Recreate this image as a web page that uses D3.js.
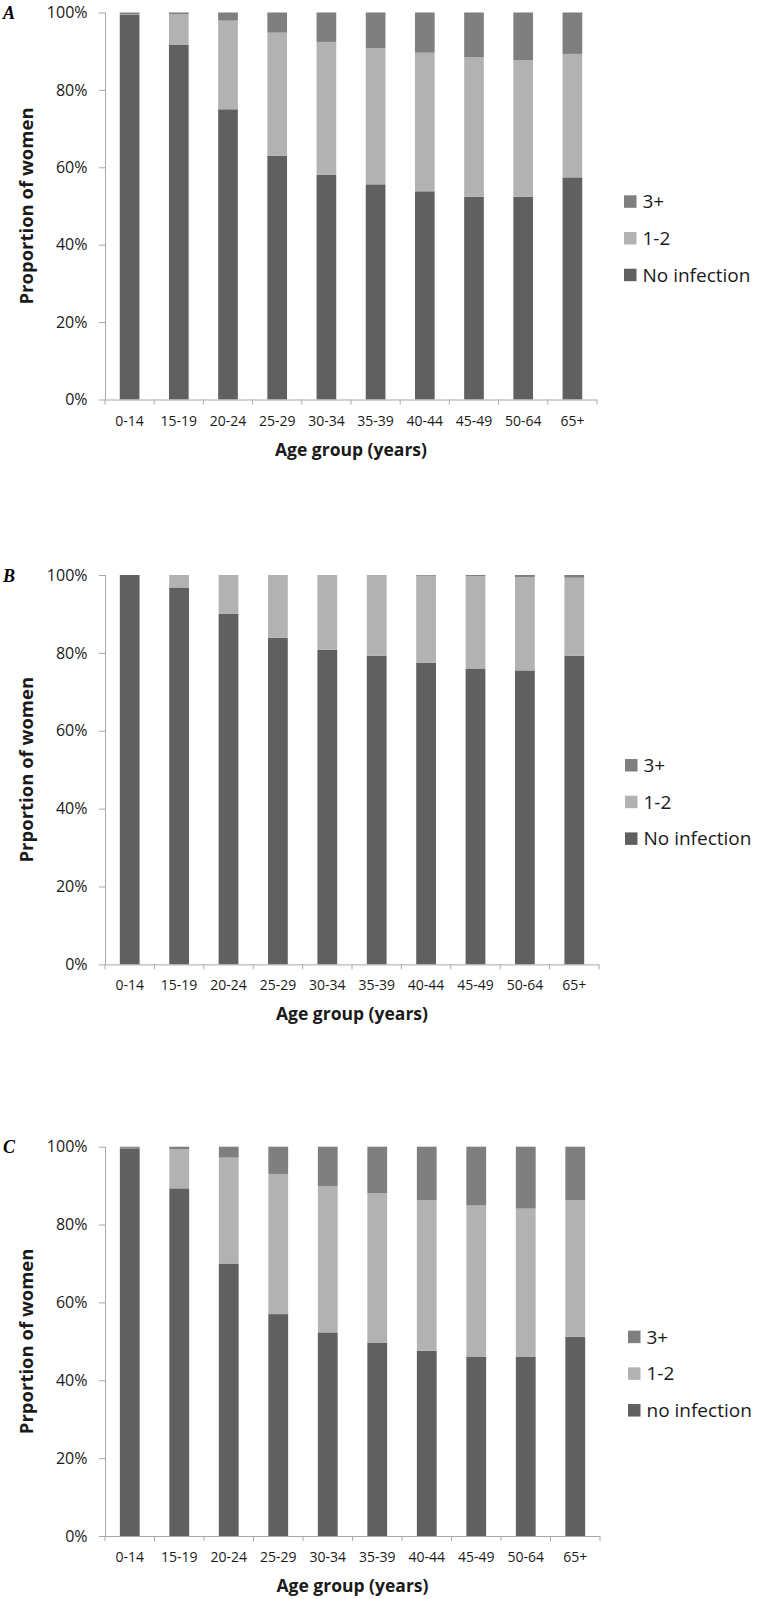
<!DOCTYPE html>
<html>
<head>
<meta charset="utf-8">
<script src="https://cdn.jsdelivr.net/npm/d3@7"></script>
<style>
  html, body { margin: 0; padding: 0; background: #fff; }
  svg { display: block; }
  text { font-family: "Open Sans", "Noto Sans", sans-serif; }
</style>
</head>
<body>
<svg id="chart" width="758" height="1599"></svg>
<script>
// ---------------- DATA ----------------
const categories = ["0-14", "15-19", "20-24", "25-29", "30-34", "35-39", "40-44", "45-49", "50-64", "65+"];
const yTickValues = [0, 0.2, 0.4, 0.6, 0.8, 1.0];

// Panel A (percent of women)
const A_noInfection = [99.5, 91.6, 75.0, 63.0, 58.1, 55.6, 53.8, 52.4, 52.4, 57.4];
const A_oneTwo      = [0.1, 8.0, 22.9, 31.8, 34.3, 35.2, 35.8, 36.0, 35.3, 31.9];
const A_threePlus   = [0.4, 0.4, 2.1, 5.2, 7.6, 9.2, 10.4, 11.6, 12.3, 10.7];

// Panel B
const B_noInfection = [100.0, 96.8, 90.0, 83.9, 80.8, 79.3, 77.5, 76.0, 75.5, 79.3];
const B_oneTwo      = [0.0, 3.2, 10.0, 16.1, 19.2, 20.6, 22.3, 23.7, 24.0, 20.0];
const B_threePlus   = [0.0, 0.0, 0.0, 0.0, 0.0, 0.1, 0.2, 0.3, 0.5, 0.7];

// Panel C
const C_noInfection = [99.6, 89.3, 70.0, 57.0, 52.3, 49.7, 47.6, 46.1, 46.1, 51.2];
const C_oneTwo      = [0.1, 10.1, 27.2, 36.0, 37.6, 38.3, 38.7, 38.8, 38.0, 35.1];
const C_threePlus   = [0.3, 0.6, 2.8, 7.0, 10.1, 12.0, 13.7, 15.1, 15.9, 13.7];

const seriesKeys = ["noInfection", "oneTwo", "threePlus"];
const colors = { noInfection: "#606060", oneTwo: "#b2b2b2", threePlus: "#7f7f7f" };

// ---------------- LAYOUT ----------------
const panels = [
  { letter: "A", yTitle: "Proportion of women", noInfLabel: "No infection",
    values: [A_noInfection, A_oneTwo, A_threePlus],
    top: 12.5, bottom: 399.5, left: 105, right: 597, legendX: 624 },
  { letter: "B", yTitle: "Prportion of women", noInfLabel: "No infection",
    values: [B_noInfection, B_oneTwo, B_threePlus],
    top: 575, bottom: 964.4, left: 105, right: 599, legendX: 625 },
  { letter: "C", yTitle: "Prportion of women", noInfLabel: "no infection",
    values: [C_noInfection, C_oneTwo, C_threePlus],
    top: 1146.7, bottom: 1536, left: 105, right: 600, legendX: 628 }
];

const svg = d3.select("#chart");
const axisColor = "#a8a8a8";
const textColor = "#1a1a1a";

panels.forEach(p => {
  const rows = categories.map((c, i) => ({
    category: c,
    noInfection: p.values[0][i] / 100,
    oneTwo: p.values[1][i] / 100,
    threePlus: p.values[2][i] / 100
  }));
  const stacked = d3.stack().keys(seriesKeys)(rows);

  const x = d3.scaleBand().domain(categories).range([p.left, p.right])
    .paddingInner(0.6).paddingOuter(0.3);
  const y = d3.scaleLinear().domain([0, 1]).range([p.bottom, p.top]);

  const g = svg.append("g");

  // bars
  g.selectAll("g.series").data(stacked).join("g")
    .attr("class", "series")
    .attr("fill", d => colors[d.key])
    .selectAll("rect").data(d => d).join("rect")
    .attr("x", d => x(d.data.category))
    .attr("width", x.bandwidth())
    .attr("y", d => y(d[1]))
    .attr("height", d => Math.max(0, y(d[0]) - y(d[1])));

  // y axis
  const yAxis = g.append("g")
    .attr("transform", `translate(${p.left},0)`)
    .call(d3.axisLeft(y).tickValues(yTickValues).tickFormat(d3.format(".0%"))
      .tickSize(6).tickPadding(11.5));
  yAxis.select(".domain").attr("stroke", axisColor).attr("d", `M0.5,${p.bottom}V${p.top}`);
  yAxis.selectAll(".tick line").attr("stroke", axisColor);
  yAxis.selectAll("text").attr("fill", textColor)
    .style("font-size", "16px").style("font-family", '"Open Sans", sans-serif');

  // x axis (labels at band centres, ticks at band boundaries)
  const xAxis = g.append("g")
    .attr("transform", `translate(0,${p.bottom})`)
    .call(d3.axisBottom(x).tickSize(0).tickPadding(0));
  xAxis.select(".domain").attr("stroke", axisColor).attr("d", `M${p.left},0.5H${p.right}`);
  xAxis.selectAll("text").attr("fill", textColor)
    .attr("y", 26).attr("dy", null)
    .style("font-size", "14px").style("font-family", '"Open Sans", sans-serif');
  const boundaries = d3.range(categories.length + 1).map(i => x.range()[0] + i * x.step());
  xAxis.selectAll("line.bound").data(boundaries).join("line")
    .attr("class", "bound")
    .attr("x1", d => d).attr("x2", d => d)
    .attr("y1", 0).attr("y2", 5)
    .attr("stroke", axisColor);

  // x title
  g.append("text")
    .attr("x", (p.left + p.right) / 2)
    .attr("y", p.bottom + 56)
    .attr("text-anchor", "middle")
    .attr("fill", textColor)
    .style("font-size", "17.5px").style("font-weight", "bold")
    .text("Age group (years)");

  // y title
  const cy = (p.top + p.bottom) / 2;
  g.append("text")
    .attr("transform", `translate(33,${cy}) rotate(-90)`)
    .attr("text-anchor", "middle")
    .attr("fill", textColor)
    .style("font-size", "18.5px").style("font-weight", "bold")
    .text(p.yTitle);

  // panel letter
  g.append("text")
    .attr("x", 3).attr("y", p.top + 6.5)
    .attr("fill", "#000")
    .style("font-family", '"Liberation Serif", "DejaVu Serif", serif')
    .style("font-style", "italic").style("font-weight", "bold")
    .style("font-size", "18px")
    .text(p.letter);

  // legend
  const legendItems = [
    { key: "threePlus", label: "3+" },
    { key: "oneTwo", label: "1-2" },
    { key: "noInfection", label: p.noInfLabel }
  ];
  const legendCenter = cy + 32;
  const lg = g.append("g");
  legendItems.forEach((item, i) => {
    const ly = legendCenter + (i - 1) * 36.7;
    lg.append("rect")
      .attr("x", p.legendX).attr("y", ly - 6)
      .attr("width", 12.5).attr("height", 12.5)
      .attr("fill", colors[item.key]);
    lg.append("text")
      .attr("x", p.legendX + 18.5).attr("y", ly + 7)
      .attr("fill", textColor)
      .style("font-size", "19px")
      .text(item.label);
  });
});
</script>
</body>
</html>
